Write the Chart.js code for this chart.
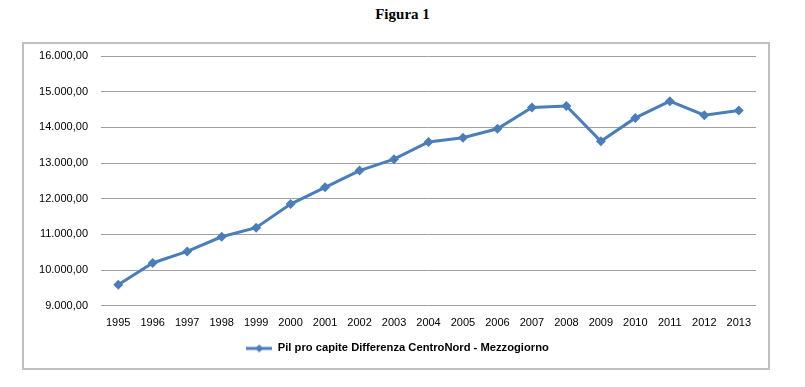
<!DOCTYPE html>
<html>
<head>
<meta charset="utf-8">
<script src="https://cdn.jsdelivr.net/npm/chart.js@4/dist/chart.umd.min.js"></script>
<style>
  html, body { margin: 0; padding: 0; background: #fff; }
  body { width: 805px; height: 387px; position: relative; overflow: hidden; }
  #title { position: absolute; left: 0; top: 6px; width: 805px; text-align: center;
           font-family: "Liberation Serif", "Times New Roman", serif; font-weight: bold; font-size: 15px; color: #000; }
  #box { position: absolute; left: 22px; top: 42px; width: 744px; height: 324px; border: 2px solid #bfbfbf; }
  #wrap { position: absolute; left: 0; top: 0; width: 744px; height: 324px; }
</style>
</head>
<body>
<div id="title">Figura 1</div>
<div id="box"><div id="wrap"><canvas id="c"></canvas></div></div>
<script>
const years = ["1995","1996","1997","1998","1999","2000","2001","2002","2003","2004","2005","2006","2007","2008","2009","2010","2011","2012","2013"];
const diffCentroNordMezzogiorno = [9590, 10200, 10525, 10935, 11190, 11850, 12320, 12790, 13110, 13590, 13710, 13960, 14560, 14600, 13610, 14265, 14735, 14340, 14470];
const seriesLabel = "Pil pro capite Differenza CentroNord - Mezzogiorno";
const yMin = 9000, yMax = 16000, yStep = 1000;

const lineColor = "#4a7ebb";

function fmt(v) {
  const s = Math.round(v).toString().replace(/\B(?=(\d{3})+(?!\d))/g, ".");
  return s + ",00";
}

// legend marker: short line with a diamond
const mk = document.createElement("canvas");
mk.width = 26; mk.height = 10;
(function () {
  const g = mk.getContext("2d");
  g.strokeStyle = lineColor; g.lineWidth = 3;
  g.beginPath(); g.moveTo(0, 5); g.lineTo(26, 5); g.stroke();
  g.fillStyle = lineColor;
  g.beginPath(); g.moveTo(13, 1); g.lineTo(17, 5); g.lineTo(13, 9); g.lineTo(9, 5); g.closePath(); g.fill();
})();

new Chart(document.getElementById("c"), {
  type: "line",
  data: {
    labels: years,
    datasets: [{
      label: seriesLabel,
      data: diffCentroNordMezzogiorno,
      borderColor: lineColor,
      backgroundColor: lineColor,
      borderWidth: 3,
      pointStyle: "rectRot",
      pointRadius: 5,
      pointBorderWidth: 0,
      pointBackgroundColor: lineColor,
      tension: 0,
      fill: false
    }]
  },
  options: {
    responsive: true,
    maintainAspectRatio: false,
    animation: false,
    layout: { padding: { top: 12, right: 12, bottom: 4, left: 15 } },
    plugins: {
      tooltip: { enabled: false },
      legend: {
        position: "bottom",
        labels: {
          usePointStyle: true,
          pointStyleWidth: 26,
          padding: 12,
          color: "#000",
          font: { family: "Liberation Sans, Arial, sans-serif", size: 11.2, weight: "bold" },
          generateLabels: (chart) => [{
            text: seriesLabel, pointStyle: mk, fillStyle: lineColor, strokeStyle: lineColor,
            lineWidth: 0, hidden: false, datasetIndex: 0, fontColor: "#000"
          }]
        }
      }
    },
    scales: {
      x: {
        offset: true,
        grid: { display: false, drawTicks: false },
        border: { display: false },
        ticks: { color: "#000", maxRotation: 0, autoSkip: false, padding: 11,
                 font: { family: "Liberation Sans, Arial, sans-serif", size: 11 } },
        afterFit: (s) => { s.height = 25; }
      },
      y: {
        min: yMin, max: yMax,
        grid: { color: "#a0a0a0", lineWidth: 1, drawTicks: true, tickLength: 12, tickColor: "rgba(0,0,0,0)" },
        border: { display: false },
        ticks: { stepSize: yStep, color: "#000", padding: 1,
                 font: { family: "Liberation Sans, Arial, sans-serif", size: 11 },
                 callback: (v) => fmt(v) },
        afterFit: (s) => { s.width = 62; }
      }
    }
  }
});
</script>
</body>
</html>
